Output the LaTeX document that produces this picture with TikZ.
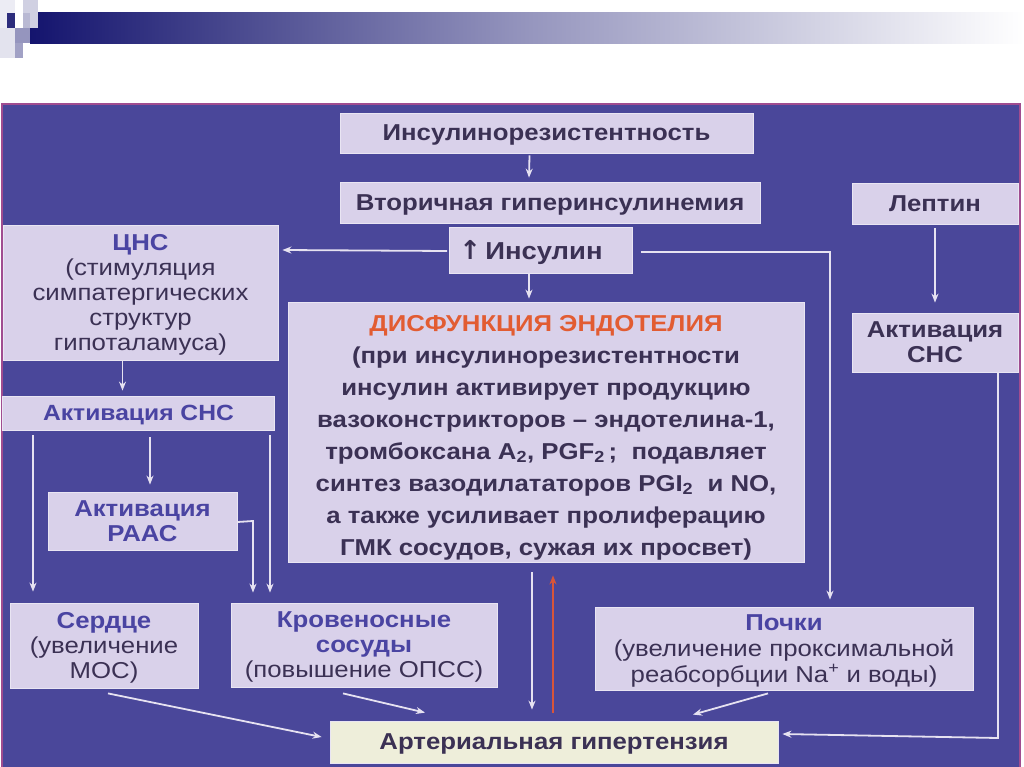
\documentclass[tikz,border=0pt]{standalone}
\usepackage{fontspec}
\setmainfont{Liberation Sans}[FakeStretch=1.12]
\newfontfamily\arrowfont{DejaVu Sans}
\usetikzlibrary{arrows.meta,positioning,calc}
\definecolor{panel}{HTML}{4A479A}
\definecolor{panelrim}{HTML}{A04C90}
\definecolor{boxfill}{HTML}{D9D1EA}
\definecolor{boxline}{HTML}{E9E5F3}
\definecolor{ahfill}{HTML}{EEEEDA}
\definecolor{txtdark}{HTML}{3B3154}
\definecolor{ttlblue}{HTML}{4A44A2}
\definecolor{ttlred}{HTML}{E25C32}
\definecolor{arrline}{HTML}{E6E2F1}
\definecolor{arrred}{HTML}{D8553A}
\definecolor{navy}{HTML}{14146E}
\newcommand{\plain}{\mdseries\fontsize{23}{25}\selectfont}

\begin{document}
\begin{tikzpicture}[x=1pt, y=-1pt,
    box/.style={fill=boxfill, draw=boxline, line width=0.8pt, inner sep=0pt, align=center,
        text=txtdark, text depth=0pt, font=\bfseries\fontsize{23}{25}\selectfont},
    head/.style={text=ttlblue},
    arr/.style={draw=arrline, line width=1.8pt, -{Stealth[length=9pt,width=7pt]}},
    uparr/.style={draw=arrred, line width=1.8pt, -{Stealth[length=9pt,width=7pt]}}
]
\useasboundingbox (0,0) rectangle (1024,767);

% шапка слайда
\shade[left color=navy, right color=white, middle color=navy!45!white] (30,13) rectangle (1024,44);
\fill[navy!8!white] (0,0) rectangle (15,28);
\fill[navy!20!white] (23,0) rectangle (38,28);
\fill[navy!30!white] (23,13) rectangle (30,28);
\fill[navy!90] (7,13) rectangle (15,28);
\fill[navy!45!white] (15,28) rectangle (30,43);
\fill[navy!12!white] (0,28) rectangle (15,58);
\fill[navy!40!white] (15,43) rectangle (23,58);

% фон схемы
\fill[panel] (2,104) rectangle (1020,767);
\draw[panelrim, line width=1.2pt] (2,767) -- (2,104) -- (1020,104) -- (1020,767);

% центральная цепочка
\node[box, minimum width=413pt, minimum height=40pt] (ir) at (546.5,133) {Инсулинорезистентность};
\node[box, minimum width=420pt, minimum height=41pt] (vh) at (550,202.5) {Вторичная гиперинсулинемия};
\node[box, minimum width=183pt, minimum height=46pt, font=\bfseries\fontsize{24.5}{27}\selectfont] (ins) at (541,250)
    {{\arrowfont\fontsize{26}{27}\selectfont ↑}\,Инсулин\hspace*{20pt}};
\node[box, minimum width=516pt, minimum height=260pt, font=\bfseries\fontsize{23}{32}\selectfont] (dys) at (546,432)
    {\rule{0pt}{22pt}\textcolor{ttlred}{ДИСФУНКЦИЯ ЭНДОТЕЛИЯ}\\
     (при инсулинорезистентности\\
     инсулин активирует продукцию\\
     вазоконстрикторов – эндотелина-1,\\
     тромбоксана А\textsubscript{2}, PGF\textsubscript{2}\,;\ \ подавляет\\
     синтез вазодилататоров PGI\textsubscript{2}\ \ и NO,\\
     а также усиливает пролиферацию\\
     ГМК сосудов, сужая их просвет)};

% лептин
\node[box, minimum width=166pt, minimum height=41pt] (lep) at (935,203.5) {Лептин};
\node[box, minimum width=166pt, minimum height=59pt] (snsr) at (935,342.5) {Активация\\ СНС};

% левая ветвь
\node[box, minimum width=275pt, minimum height=135pt] (cns) at (140.5,292.5)
    {\textcolor{ttlblue}{ЦНС}\\ \plain(стимуляция\\ \plain симпатергических\\ \plain структур\\ \plain гипоталамуса)};
\node[box, head, minimum width=272pt, minimum height=34pt, font=\bfseries\fontsize{22}{25}\selectfont] (snsl) at (138.5,413) {Активация СНС};
\node[box, head, minimum width=189pt, minimum height=58pt] (raas) at (142.5,521) {Активация\\ РААС};
\node[box, minimum width=188pt, minimum height=85pt] (heart) at (104,645.5)
    {\textcolor{ttlblue}{Сердце}\\ \plain(увеличение\\ \plain МОС)};
\node[box, minimum width=266pt, minimum height=84pt] (vess) at (364,645)
    {\textcolor{ttlblue}{Кровеносные}\\ \textcolor{ttlblue}{сосуды}\\ \plain(повышение ОПСС)};

% почки и итог
\node[box, minimum width=378pt, minimum height=83pt, font=\bfseries\fontsize{23}{26}\selectfont] (kid) at (784,648.5)
    {\textcolor{ttlblue}{Почки}\\ \mdseries(увеличение проксимальной\\ \mdseries реабсорбции Na\textsuperscript{+} и воды)};
\node[box, fill=ahfill, minimum width=448pt, minimum height=42pt] (ah) at (554,742) {Артериальная гипертензия};

% точки поворота
\coordinate (kturn) at (830,252);
\coordinate (rturn) at (998,738);
\coordinate (rv) at (253,521);
\coordinate (hl) at (33,0);

% стрелки
\draw[arr] ([xshift=-17pt,yshift=-2pt]ir.south) -- ([xshift=-21pt,yshift=4pt]vh.north);
\draw[arr] ([xshift=-12pt]ins.south) -- ([xshift=-17pt,yshift=3pt]dys.north);
\draw[arr] ([xshift=-2pt,yshift=-1pt]ins.west) -- ([xshift=4pt]ins.west -| cns.east);
\draw[arr] ([xshift=8pt,yshift=-2pt]ins.east) -- (kturn) -- ([yshift=7pt]kturn |- kid.north);
\draw[arr] ([yshift=-4pt]lep.south) -- ([yshift=10pt]snsr.north);
\draw[arr] ([xshift=63pt]snsr.south) -- (rturn) -- ([xshift=4pt,yshift=4pt]rturn -| ah.east);
\draw[arr] ([xshift=-18pt]cns.south) -- ([xshift=-16pt,yshift=5pt]snsl.north);
\draw[arr] ([yshift=-5pt]snsl.south -| hl) -- ([yshift=11pt]hl |- heart.north);
\draw[arr] ([xshift=11.5pt,yshift=-7pt]snsl.south) -- ([xshift=7.5pt,yshift=7pt]raas.north);
\draw[arr] ([xshift=131.5pt,yshift=-5pt]snsl.south) -- ([xshift=-94pt,yshift=10pt]vess.north);
\draw[arr] ([yshift=-1pt]raas.east) -- (rv) -- ([xshift=-111pt,yshift=10pt]vess.north);
\draw[arr] ([xshift=4pt,yshift=-5pt]heart.south) -- ([xshift=-8pt,yshift=5pt]ah.west);
\draw[arr] ([xshift=-21pt,yshift=-6pt]vess.south) -- ([xshift=-129pt,yshift=8pt]ah.north);
\draw[arr] ([xshift=-16pt,yshift=-3pt]kid.south) -- ([xshift=139pt,yshift=6pt]ah.north);
\draw[arr] ([xshift=-14pt,yshift=-10pt]dys.south) -- ([xshift=-22pt,yshift=11pt]ah.north);
\draw[uparr] ([xshift=-1pt,yshift=8pt]ah.north) -- ([xshift=7pt,yshift=-13pt]dys.south);
\end{tikzpicture}
\end{document}
